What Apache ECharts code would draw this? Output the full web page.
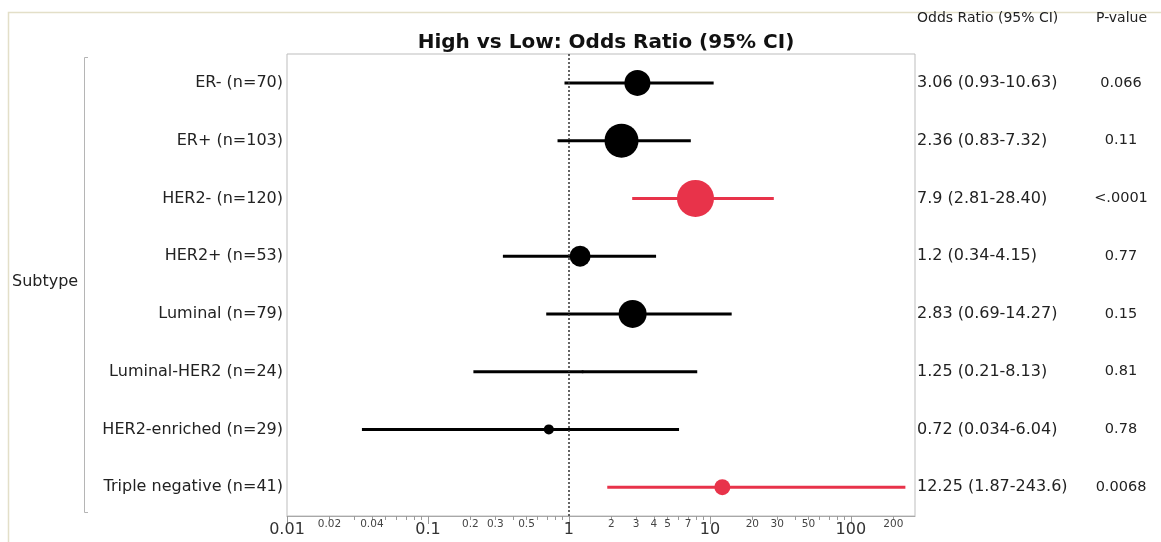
<!DOCTYPE html>
<html><head><meta charset="utf-8">
<script src="https://cdn.jsdelivr.net/npm/echarts@6/dist/echarts.min.js"></script>
<style>html,body{margin:0;padding:0;background:#fff}#c{width:1161px;height:542px}</style>
</head><body><div id="c"></div>
<script>
const categories = ['ER- (n=70)','ER+ (n=103)','HER2- (n=120)','HER2+ (n=53)','Luminal (n=79)','Luminal-HER2 (n=24)','HER2-enriched (n=29)','Triple negative (n=41)'];
const oddsRatio = [3.06, 2.36, 7.9, 1.2, 2.83, 1.25, 0.72, 12.25];
const ciLower = [0.93, 0.83, 2.81, 0.34, 0.69, 0.21, 0.034, 1.87];
const ciUpper = [10.63, 7.32, 28.40, 4.15, 14.27, 8.13, 6.04, 243.6];
const ciText = ['3.06 (0.93-10.63)','2.36 (0.83-7.32)','7.9 (2.81-28.40)','1.2 (0.34-4.15)','2.83 (0.69-14.27)','1.25 (0.21-8.13)','0.72 (0.034-6.04)','12.25 (1.87-243.6)'];
const pValues = ['0.066','0.11','<.0001','0.77','0.15','0.81','0.78','0.0068'];
const weights = [26, 34, 37, 21, 28, 3, 10, 16];
const significant = [false,false,true,false,false,false,false,true];
const majorTicks = [0.01, 0.1, 1, 10, 100];
const minorTicks = [0.02,0.03,0.04,0.05,0.06,0.07,0.08,0.09,0.2,0.3,0.4,0.5,0.6,0.7,0.8,0.9,2,3,4,5,6,7,8,9,20,30,40,50,60,70,80,90,200];
const minorTickLabels = [0.02,0.04,0.2,0.3,0.5,2,3,4,5,7,20,30,50,200];

const RED = '#E8334A';
const FONT = 'DejaVu Sans';
const TXT = '#222';

const chart = echarts.init(document.getElementById('c'));
const option = {
  animation: false,
  backgroundColor: '#fff',
  textStyle: {fontFamily: FONT},
  title: [{
    text: 'High vs Low: Odds Ratio (95% CI)', left: 601, textAlign: 'center', top: 28,
    textStyle: {fontSize: 20, fontWeight: 'bold', color: '#111', fontFamily: FONT}
  }],
  grid: {left: 287, right: 246, top: 54, bottom: 26, show: true, borderColor: '#bdbdbd', borderWidth: 1, backgroundColor: 'transparent', containLabel: false},
  xAxis: [
    {type: 'log', logBase: 10, min: 0.01, max: 285, position: 'bottom',
     axisLine: {show: true, lineStyle: {color: '#a8a8a8', width: 1}},
     axisTick: {show: true, length: 8, customValues: majorTicks, lineStyle: {color: '#999'}},
     axisLabel: {customValues: majorTicks, fontSize: 16, color: '#333', margin: 6, formatter: v => String(v)},
     splitLine: {show: false}, minorTick: {show: false}},
    {type: 'log', logBase: 10, min: 0.01, max: 285, position: 'bottom', offset: 0,
     axisLine: {show: false},
     axisTick: {show: true, length: 4, customValues: minorTicks, lineStyle: {color: '#999'}},
     axisLabel: {customValues: minorTickLabels, fontSize: 10.5, color: '#444', margin: 3, formatter: v => String(v)},
     splitLine: {show: false}}
  ],
  yAxis: [
    {type: 'category', data: categories, inverse: true,
     axisLine: {show: false}, axisTick: {show: false}, splitLine: {show: false},
     axisLabel: {fontSize: 16, color: TXT, margin: 4}},
    {type: 'category', data: categories, inverse: true, position: 'right',
     axisLine: {show: false}, axisTick: {show: false}, splitLine: {show: false},
     axisLabel: {margin: 2, align: 'left',
       formatter: (v, i) => '{a|' + ciText[i] + '}{b|' + pValues[i] + '}',
       rich: {a: {width: 175, fontSize: 16, color: TXT, align: 'left', fontFamily: FONT},
              b: {width: 58, fontSize: 14.5, color: TXT, align: 'center', fontFamily: FONT}}}}
  ],
  series: [
    {type: 'custom', xAxisIndex: 0, yAxisIndex: 0, z: 2,
     data: categories.map((c, i) => [ciLower[i], ciUpper[i], i, significant[i] ? 1 : 0]),
     encode: {x: [0, 1], y: 2},
     renderItem: (params, api) => {
       const p1 = api.coord([api.value(0), api.value(2)]);
       const p2 = api.coord([api.value(1), api.value(2)]);
       return {type: 'line', shape: {x1: p1[0], y1: p1[1], x2: p2[0], y2: p2[1]},
               style: {stroke: api.value(3) ? RED : '#000', lineWidth: 3}};
     }},
    {type: 'scatter', xAxisIndex: 0, yAxisIndex: 0, z: 3,
     data: categories.map((c, i) => ({value: [oddsRatio[i], i], symbolSize: weights[i], itemStyle: {color: significant[i] ? RED : '#000', opacity: 1}})),
     markLine: {silent: true, symbol: 'none', label: {show: false},
       lineStyle: {type: [2, 2], color: '#333', width: 1.5},
       data: [{xAxis: 1}]}}
  ],
  graphic: [
    {type: 'polyline', silent: true, shape: {points: [[8.5, 542], [8.5, 12.5], [1161, 12.5]]}, style: {stroke: '#e3dfc8', lineWidth: 1.5, fill: null}},
    {type: 'polyline', silent: true, shape: {points: [[88, 57.5], [84.5, 57.5], [84.5, 512.5], [88, 512.5]]}, style: {stroke: '#b5b5b5', lineWidth: 1, fill: null}},
    {type: 'text', silent: true, left: 12, top: 274, style: {text: 'Subtype', fontSize: 16, fill: TXT, fontFamily: FONT}},
    {type: 'text', silent: true, left: 917, top: 11, style: {text: 'Odds Ratio (95% CI)', fontSize: 14, fill: TXT, fontFamily: FONT}},
    {type: 'text', silent: true, left: 1096, top: 11, style: {text: 'P-value', fontSize: 14, fill: TXT, fontFamily: FONT}}
  ]
};
chart.setOption(option);
</script>
</body></html>
